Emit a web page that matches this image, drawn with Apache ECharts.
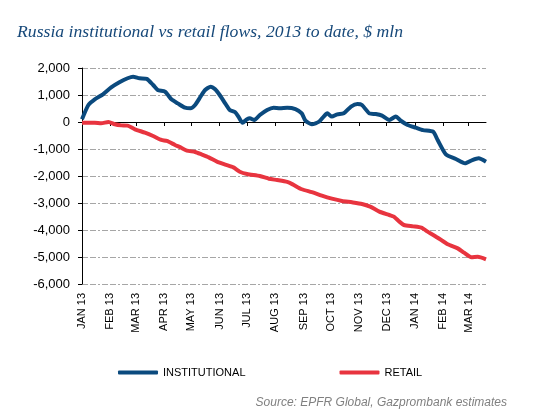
<!DOCTYPE html>
<html>
<head>
<meta charset="utf-8">
<script src="https://cdn.jsdelivr.net/npm/echarts@6/dist/echarts.min.js"></script>
<style>
html,body{margin:0;padding:0;background:#fff;}
#chart{width:547px;height:419px;}
</style>
</head>
<body>
<div id="chart"></div>
<script>
const monthStarts = ['2013-01-01','2013-02-01','2013-03-01','2013-04-01','2013-05-01','2013-06-01','2013-07-01','2013-08-01','2013-09-01','2013-10-01','2013-11-01','2013-12-01','2014-01-01','2014-02-01','2014-03-01'];
const monthLabels = ['JAN 13','FEB 13','MAR 13','APR 13','MAY 13','JUN 13','JUL 13','AUG 13','SEP 13','OCT 13','NOV 13','DEC 13','JAN 14','FEB 14','MAR 14'];

const instDates = ['2013-01-01','2013-01-08','2013-01-15','2013-01-24','2013-02-02','2013-02-11','2013-02-20','2013-02-26','2013-03-05','2013-03-13','2013-03-20','2013-03-25','2013-04-02','2013-04-09','2013-04-16','2013-04-24','2013-04-30','2013-05-05','2013-05-11','2013-05-16','2013-05-22','2013-05-27','2013-06-01','2013-06-07','2013-06-12','2013-06-18','2013-06-22','2013-06-26','2013-07-01','2013-07-04','2013-07-09','2013-07-15','2013-07-23','2013-07-30','2013-08-06','2013-08-14','2013-08-23','2013-08-30','2013-09-03','2013-09-10','2013-09-18','2013-09-23','2013-09-27','2013-10-02','2013-10-08','2013-10-15','2013-10-23','2013-10-30','2013-11-04','2013-11-12','2013-11-19','2013-11-26','2013-12-04','2013-12-11','2013-12-17','2013-12-24','2014-01-02','2014-01-10','2014-01-21','2014-01-26','2014-02-04','2014-02-15','2014-02-25','2014-03-05','2014-03-12','2014-03-20'];
const instValues = [100,630,840,1025,1280,1470,1620,1680,1620,1600,1370,1185,1125,840,690,530,506,630,940,1185,1310,1210,1000,690,445,360,170,-25,100,135,75,260,445,530,506,530,480,320,50,-85,12,200,320,200,285,320,570,665,630,320,296,235,75,200,37,-110,-210,-300,-360,-670,-1200,-1370,-1530,-1410,-1345,-1470];

const retailDates = ['2013-01-01','2013-01-15','2013-01-22','2013-01-30','2013-02-06','2013-02-13','2013-02-20','2013-02-28','2013-03-11','2013-03-20','2013-03-29','2013-04-04','2013-04-13','2013-04-19','2013-04-26','2013-05-05','2013-05-12','2013-05-20','2013-05-29','2013-06-07','2013-06-16','2013-06-23','2013-07-01','2013-07-15','2013-07-25','2013-08-03','2013-08-14','2013-08-20','2013-08-30','2013-09-10','2013-09-21','2013-10-02','2013-10-13','2013-10-24','2013-11-04','2013-11-13','2013-11-23','2013-12-04','2013-12-09','2013-12-15','2013-12-20','2013-12-30','2014-01-08','2014-01-15','2014-01-26','2014-02-06','2014-02-17','2014-02-24','2014-03-04','2014-03-11','2014-03-20'];
const retailValues = [-25,-25,-50,0,-85,-125,-135,-270,-395,-520,-665,-700,-850,-940,-1060,-1110,-1200,-1310,-1470,-1580,-1680,-1840,-1925,-2000,-2100,-2150,-2220,-2310,-2490,-2600,-2730,-2840,-2925,-2975,-3035,-3135,-3320,-3445,-3505,-3690,-3815,-3865,-3915,-4060,-4285,-4530,-4680,-4840,-5010,-4990,-5085];

const seriesNames = ['INSTITUTIONAL','RETAIL'];
const yMin = -6000, yMax = 2000, yStep = 1000;
const xMin = '2013-01-01', xMax = '2014-03-20';
const titleText = 'Russia institutional vs retail flows, 2013 to date, $ mln';
const sourceText = 'Source: EPFR Global, Gazprombank estimates';

// day index since the start date (calendar conversion only)
const DAY = 86400000;
function ts(s){ const p = s.split('-').map(Number); return Date.UTC(p[0], p[1]-1, p[2]); }
function dayIdx(s){ return Math.round((ts(s) - ts(xMin)) / DAY); }
const tickDays = monthStarts.map(dayIdx);
function pairs(d, v){ return d.map((s,i)=>[dayIdx(s), v[i]]); }

const chart = echarts.init(document.getElementById('chart'));
const xCommon = { type:'value', min: 0, max: dayIdx(xMax), splitLine:{show:false}, minorTick:{show:false} };
chart.setOption({
  animation:false,
  backgroundColor:'#fff',
  grid:{left:82, right:61, top:68, bottom:135, containLabel:false},
  xAxis:[
    Object.assign({}, xCommon, {
      position:'bottom',
      axisLine:{show:false, onZero:false},
      axisTick:{show:false},
      axisLabel:{
        show:true, rotate:90, margin:9, fontSize:11, fontFamily:'Arial, "Liberation Sans"', color:'#000',
        customValues: tickDays,
        formatter:function(v){ const i = tickDays.indexOf(v); return i>=0 ? monthLabels[i] : ''; }
      }
    }),
    Object.assign({}, xCommon, {
      position:'bottom',
      axisLine:{show:true, onZero:true, lineStyle:{color:'#000', width:1}},
      axisTick:{show:true, length:4, customValues: tickDays, lineStyle:{color:'#000'}},
      axisLabel:{show:false}
    })
  ],
  yAxis:{
    type:'value', min:yMin, max:yMax, interval:yStep,
    axisLine:{show:true, onZero:false, lineStyle:{color:'#000', width:1}},
    axisTick:{show:true, length:4, lineStyle:{color:'#000'}},
    axisLabel:{fontSize:13, fontFamily:'Arial, "Liberation Sans"', color:'#000', margin:12},
    splitLine:{show:true, lineStyle:{color:'#a6a6a6', width:1, type:[6,2,6,2,2,2]}}
  },
  legend:{
    data:seriesNames, left:113, top:362, itemWidth:40, itemHeight:4, itemGap:94, icon:'roundRect',
    textStyle:{fontSize:11, fontFamily:'Arial, "Liberation Sans"', color:'#000'}
  },
  graphic:[
    {type:'text', left:17, top:23, style:{text:titleText, font:'italic 17.7px "Liberation Serif", serif', fill:'#17497a'}},
    {type:'text', right:40, top:397, style:{text:sourceText, font:'italic 12px Arial, "Liberation Sans"', fill:'#808080'}}
  ],
  series:[
    {name:seriesNames[0], type:'line', xAxisIndex:0, data:pairs(instDates, instValues), showSymbol:false, smooth:0.2,
     lineStyle:{color:'#0b4a7e', width:4, join:'round'}, itemStyle:{color:'#0b4a7e'}, z:3},
    {name:seriesNames[1], type:'line', xAxisIndex:0, data:pairs(retailDates, retailValues), showSymbol:false, smooth:0.2,
     lineStyle:{color:'#e8343f', width:4, join:'round'}, itemStyle:{color:'#e8343f'}, z:2}
  ]
});
</script>
</body>
</html>
